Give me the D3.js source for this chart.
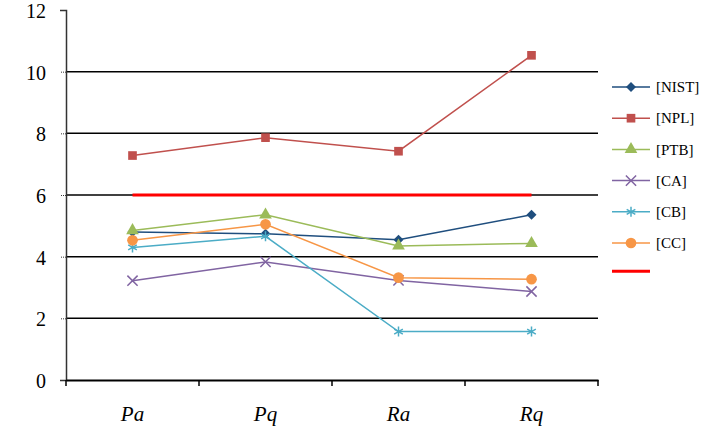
<!DOCTYPE html>
<html>
<head>
<meta charset="utf-8">
<script src="https://cdn.jsdelivr.net/npm/d3@7"></script>
<style>
  body { margin: 0; background: #fff; }
  svg text { font-family: 'Liberation Serif', 'Times New Roman', Times, serif !important; }
</style>
</head>
<body>
<div id="chart"></div>
<script>
const categories = ['Pa', 'Pq', 'Ra', 'Rq']
const seriesNames = ['[NIST]', '[NPL]', '[PTB]', '[CA]', '[CB]', '[CC]']
const nist = [4.8, 4.74, 4.55, 5.36]
const npl = [7.28, 7.86, 7.42, 10.53]
const ptb = [4.85, 5.36, 4.35, 4.43]
const ca = [3.22, 3.83, 3.23, 2.87]
const cb = [4.3, 4.66, 1.57, 1.57]
const cc = [4.53, 5.05, 3.32, 3.27]
const limitValue = 6
const yTicks = [0, 2, 4, 6, 8, 10, 12]

const colors = ['#1F4E7E', '#C0504D', '#9BBB59', '#8064A2', '#4BACC6', '#F79646']
const symbols = ['diamond', d3.symbolSquare, d3.symbolTriangle, d3.symbolTimes, d3.symbolAsterisk, d3.symbolCircle]
const symbolSizes = [50, 75, 70, 70, 70, 90]
const allSeries = [nist, npl, ptb, ca, cb, cc]

const margin = { top: 10, left: 66, right: 105, bottom: 46 }
const W = 703
const H = 426
const width = W - margin.left - margin.right
const height = H - margin.top - margin.bottom

const svg = d3
  .select('#chart')
  .append('svg')
  .attr('width', W)
  .attr('height', H)
  .append('g')
  .attr('transform', 'translate(' + margin.left + ',' + margin.top + ')')

const x = d3.scaleBand().domain(categories).range([0, width])
const y = d3.scaleLinear().domain([0, 12]).range([height, 0])
const cx = d => x(d) + x.bandwidth() / 2

function marker(sel, s) {
  const isStroke = symbols[s] === d3.symbolTimes || symbols[s] === d3.symbolAsterisk
  if (symbols[s] === 'diamond') {
    sel.attr('d', d3.symbol().type(d3.symbolSquare).size(symbolSizes[s])())
      .attr('transform', (d, i) => sel.__pos(d, i) + ' rotate(45)')
  } else {
    sel.attr('d', d3.symbol().type(symbols[s]).size(symbolSizes[s])())
  }
  sel
    .attr('fill', isStroke ? 'none' : colors[s])
    .attr('stroke', isStroke ? colors[s] : 'none')
    .attr('stroke-width', 1.5)
}

// gridlines
svg
  .selectAll('.grid')
  .data(yTicks.filter(d => d > 0 && d < 12))
  .enter()
  .append('line')
  .attr('x1', 0)
  .attr('x2', width)
  .attr('y1', d => y(d))
  .attr('y2', d => y(d))
  .attr('stroke', '#000')
  .attr('stroke-width', 1.5)

// y axis
const yAxis = svg.append('g').call(d3.axisLeft(y).tickValues(yTicks).tickSize(6).tickPadding(14))
yAxis.attr('font-family', null)
yAxis.select('.domain').attr('stroke', '#333').attr('stroke-width', 1.5)
yAxis.selectAll('.tick line').attr('stroke', '#333').attr('stroke-dasharray', '1,1')
yAxis.selectAll('text').attr('font-size', 20).attr('fill', '#000').attr('dy', '0.38em')

// x axis
const xAxis = svg
  .append('g')
  .attr('transform', `translate(0,${height})`)
  .call(d3.axisBottom(x).tickSize(0).tickPadding(26))
xAxis.attr('font-family', null)
xAxis.select('.domain').attr('stroke', '#000').attr('stroke-width', 2)
xAxis.selectAll('text').attr('font-size', 21).attr('font-style', 'italic').attr('fill', '#000')
xAxis
  .selectAll('.xt')
  .data(d3.range(categories.length + 1))
  .enter()
  .append('line')
  .attr('x1', i => i * x.step())
  .attr('x2', i => i * x.step())
  .attr('y1', 0)
  .attr('y2', 6)
  .attr('stroke', '#000')
  .attr('stroke-width', 1.5)

// limit line
svg
  .append('line')
  .attr('x1', cx(categories[0]))
  .attr('x2', cx(categories[categories.length - 1]))
  .attr('y1', y(limitValue))
  .attr('y2', y(limitValue))
  .attr('stroke', '#FF0000')
  .attr('stroke-width', 3)

const line = d3
  .line()
  .x((d, i) => cx(categories[i]))
  .y(d => y(d))

allSeries.forEach(function(values, s) {
  const g = svg.append('g')
  g.append('path')
    .attr('d', line(values))
    .attr('fill', 'none')
    .attr('stroke', colors[s])
    .attr('stroke-width', 1.5)

  const pts = g.selectAll('.pt')
    .data(values)
    .enter()
    .append('path')
  pts.__pos = (d, i) => `translate(${cx(categories[i])},${y(d)})`
  pts.attr('transform', pts.__pos)
  marker(pts, s)
})

// legend
const legend = svg.append('g').attr('transform', `translate(${width + 14},0)`)
const rowY = i => 77 + i * 31.2

seriesNames.forEach(function(name, s) {
  const row = legend.append('g').attr('transform', `translate(0,${rowY(s)})`)
  row.append('line').attr('x1', 0).attr('x2', 38).attr('stroke', colors[s]).attr('stroke-width', 1.5)
  const m = row.append('path')
  m.__pos = () => 'translate(19,0)'
  m.attr('transform', m.__pos)
  marker(m, s)
  row.append('text')
    .text(name)
    .attr('x', 44)
    .attr('dy', '0.35em')
    .attr('font-size', 15)
})
legend
  .append('line')
  .attr('x1', 0)
  .attr('x2', 38)
  .attr('y1', rowY(6) - 3)
  .attr('y2', rowY(6) - 3)
  .attr('stroke', '#FF0000')
  .attr('stroke-width', 3)
</script>
</body>
</html>
